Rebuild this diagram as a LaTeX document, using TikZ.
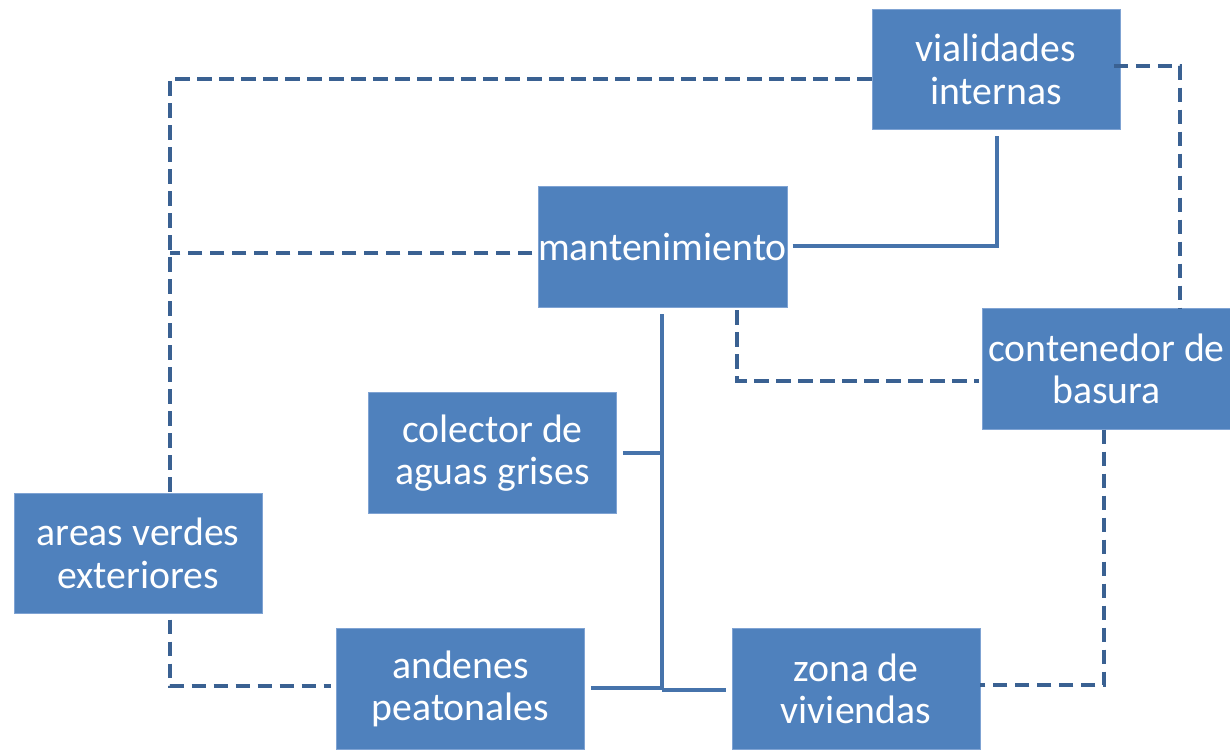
\documentclass[tikz,border=0pt]{standalone}
\usepackage{fontspec}
\setmainfont{Carlito}
\definecolor{boxfill}{HTML}{4F81BD}
\definecolor{boxline}{HTML}{7FA3D3}
\definecolor{solidc}{HTML}{4673AB}
\definecolor{dashc}{HTML}{3A6192}
\begin{document}
\begin{tikzpicture}[x=0.75pt,y=-0.75pt,
  box/.style={draw=boxline,line width=0.6pt,fill=boxfill,text=white,inner sep=0pt,
    minimum width=186pt,minimum height=90.5pt,align=center,
    font=\fontsize{29.8}{32}\selectfont},
  solidline/.style={draw=solidc,line width=3pt},
  dashline/.style={draw=dashc,line width=3pt,dash pattern=on 11pt off 5.5pt}]
\useasboundingbox (0,0) rectangle (1230,749);
\node[box] (vial) at (996,69.5) {vialidades\\internas};
\node[box] (mant) at (662.5,247) {mantenimiento};
\node[box] (cont) at (1106.5,369) {contenedor de\\basura};
\node[box] (col) at (492.5,453) {colector de\\aguas grises};
\node[box] (areas) at (138,553.5) {areas verdes\\exteriores};
\node[box] (and) at (460.5,689) {andenes\\peatonales};
\node[box] (zona) at (856,689) {zona de\\viviendas};
% dashed connectors
\draw[dashline] (vial.west |- 0,79) -- (170,79) -- (170,0 |- areas.north);
\draw[dashline] ([xshift=-4pt]mant.west |- 0,253) -- (170,253);
\draw[dashline] ([xshift=-5pt]vial.east |- 0,66) -- (1180,66) -- (1180,0 |- cont.north);
\draw[dashline] ([yshift=-2pt]mant.south -| 737,0) -- (737,381) -- ([xshift=-2pt]cont.west |- 0,381);
\draw[dashline] ([yshift=0pt]cont.south -| 1104,0) -- (1104,685) -- (zona.east |- 0,685);
\draw[dashline] ([yshift=-4pt]areas.south -| 170,0) -- (170,686) -- ([xshift=-4pt]and.west |- 0,686);
% solid connectors
\draw[solidline] ([xshift=4pt]mant.east |- 0,246) -- (997,246) -- ([yshift=-4.5pt]997,0 |- vial.south);
\draw[solidline] ([yshift=-5pt]mant.south -| 662,0) -- (662,690);
\draw[solidline] ([xshift=4.5pt]col.east |- 0,453) -- (662,453);
\draw[solidline] ([xshift=4.5pt]and.east |- 0,688) -- (662,688);
\draw[solidline] (662,690) -- ([xshift=-4.5pt]zona.west |- 0,690);
\end{tikzpicture}
\end{document}
